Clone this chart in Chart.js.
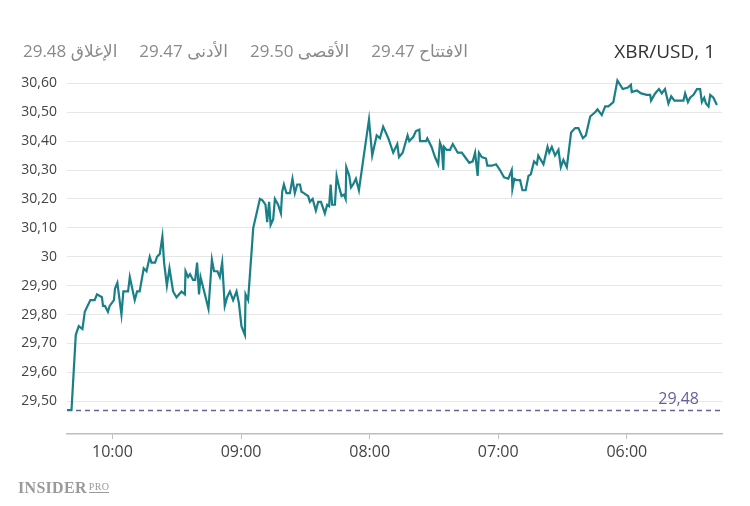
<!DOCTYPE html>
<html>
<head>
<meta charset="utf-8">
<script src="https://cdn.jsdelivr.net/npm/chart.js@4/dist/chart.umd.min.js"></script>
<style>
  html, body { margin:0; padding:0; background:#fff; }
  #wrap { position:relative; width:750px; height:506px; overflow:hidden; font-family:"Open Sans","DejaVu Sans",sans-serif; }
  #c { position:absolute; left:0; top:0; }
  #sym { position:absolute; right:35px; top:38px; font-size:19px; color:#333; line-height:26px; }
  #ohlc { position:absolute; right:282px; top:38px; font-size:17px; color:#8a8a8a; direction:rtl; white-space:nowrap; line-height:26px; }
  #ohlc span { margin-left:22px; }
  #ohlc span:last-child { margin-left:0; }
  #logo { position:absolute; left:18px; top:479px; color:#9a9a9a; font-family:"Liberation Serif","DejaVu Serif",serif; font-weight:bold; font-size:16px; letter-spacing:0.3px; }
  #logo small { font-size:10px; font-weight:normal; border-bottom:1px solid #9a9a9a; margin-left:2px; vertical-align:3px; }
</style>
</head>
<body>
<div id="wrap">
  <canvas id="c" width="750" height="506"></canvas>
  <div id="sym">XBR/USD, 1</div>
  <div id="ohlc"><span>الافتتاح 29.47</span><span>الأقصى 29.50</span><span>الأدنى 29.47</span><span>الإغلاق 29.48</span></div>
  <div id="logo">INSIDER<small>PRO</small></div>
</div>
<script>
// x position in minutes counted from the 10:00 tick towards the right of the chart
const minutes = [-21.2,-19.1,-17.1,-15.7,-14.0,-12.9,-10.3,-8.3,-7.2,-4.9,-4.4,-3.5,-2.1,-1.3,0.7,1.2,2.3,4.2,5.1,7.3,8.1,10.4,11.5,12.7,14.6,15.9,17.4,18.2,19.9,20.8,22.1,23.3,24.1,25.4,26.6,28.3,29.9,32.2,33.8,34.1,35.3,36.2,37.6,38.6,39.5,40.4,41.1,42.8,44.8,46.4,47.4,49.0,50.1,51.2,52.4,53.5,54.8,56.3,57.9,59.0,60.2,61.8,62.1,63.3,65.7,68.8,70.0,71.4,72.2,73.1,73.8,75.0,75.8,77.3,78.6,79.2,80.0,81.2,82.8,84.0,85.1,86.2,87.5,88.2,89.3,90.3,91.3,92.1,93.4,94.9,96.0,97.3,99.1,100.2,101.1,101.8,102.5,103.8,104.6,105.8,106.9,108.0,108.8,109.1,110.5,111.3,112.3,113.6,115.0,117.0,119.7,121.2,123.3,124.8,126.3,128.7,131.0,132.9,133.7,135.4,137.7,138.5,140.4,141.6,143.2,143.5,146.3,146.9,148.9,150.5,152.0,152.8,153.6,154.4,154.7,155.9,157.5,158.8,161.1,163.0,164.5,166.5,168.1,169.2,170.4,171.0,172.3,174.3,174.9,177.0,179.0,180.8,182.7,184.7,186.3,186.6,187.5,188.6,190.2,191.3,192.8,194.1,195.2,196.7,198.0,198.7,201.1,203.0,203.8,205.0,206.5,208.1,209.2,210.4,212.0,214.0,215.9,217.4,219.5,220.9,222.9,225.2,226.3,228.3,229.9,231.4,233.7,235.6,238.1,240.5,241.9,242.3,244.7,246.7,249.3,250.9,251.3,253.2,255.0,256.3,257.8,259.4,260.7,262.2,264.9,266.4,267.2,268.5,269.5,271.1,272.7,274.2,275.0,276.1,276.9,278.1,278.9,280.4,282.0];
const prices = [29.47,29.47,29.73,29.76,29.75,29.81,29.85,29.85,29.87,29.86,29.83,29.83,29.81,29.83,29.85,29.89,29.91,29.80,29.88,29.88,29.93,29.85,29.88,29.88,29.96,29.95,30.00,29.98,29.98,30.00,30.01,30.07,29.98,29.90,29.96,29.88,29.86,29.88,29.87,29.95,29.93,29.94,29.92,29.92,29.98,29.87,29.93,29.88,29.82,29.99,29.95,29.95,29.93,29.98,29.83,29.86,29.88,29.85,29.88,29.84,29.76,29.73,29.87,29.85,30.10,30.20,30.195,30.18,30.12,30.19,30.11,30.13,30.20,30.18,30.15,30.225,30.25,30.22,30.22,30.27,30.22,30.25,30.25,30.225,30.22,30.215,30.21,30.19,30.20,30.16,30.19,30.19,30.15,30.18,30.175,30.25,30.18,30.18,30.28,30.24,30.21,30.215,30.20,30.31,30.28,30.24,30.25,30.27,30.23,30.335,30.475,30.35,30.42,30.41,30.45,30.41,30.36,30.39,30.345,30.36,30.42,30.40,30.415,30.435,30.44,30.40,30.40,30.41,30.38,30.345,30.32,30.395,30.38,30.30,30.38,30.37,30.37,30.39,30.36,30.36,30.345,30.325,30.33,30.36,30.28,30.36,30.345,30.34,30.315,30.315,30.32,30.30,30.275,30.27,30.30,30.235,30.27,30.265,30.265,30.23,30.23,30.28,30.285,30.33,30.32,30.35,30.32,30.38,30.36,30.38,30.35,30.37,30.31,30.335,30.31,30.43,30.445,30.445,30.41,30.42,30.485,30.50,30.51,30.49,30.52,30.52,30.535,30.61,30.58,30.585,30.595,30.57,30.575,30.565,30.56,30.56,30.54,30.565,30.58,30.565,30.58,30.53,30.555,30.54,30.54,30.54,30.565,30.535,30.55,30.56,30.58,30.58,30.535,30.55,30.53,30.52,30.56,30.55,30.525];
const xTickValues = [0, 60, 120, 180, 240];
const xTickLabels = ['10:00', '09:00', '08:00', '07:00', '06:00'];
const yTickValues = [29.5, 29.6, 29.7, 29.8, 29.9, 30.0, 30.1, 30.2, 30.3, 30.4, 30.5, 30.6];
const yTickLabels = ['29,50', '29,60', '29,70', '29,80', '29,90', '30', '30,10', '30,20', '30,30', '30,40', '30,50', '30,60'];
const closeLevel = 29.468;
const closeLabel = '29,48';
const xRange = [-21.2, 284.4];
const yRange = [29.387, 30.646];

const lineData = minutes.map((m, i) => ({ x: m, y: prices[i] }));
const refData = [{ x: xRange[0], y: closeLevel }, { x: xRange[1], y: closeLevel }];

const closeLabelPlugin = {
  id: 'closeLabel',
  afterDatasetsDraw(chart) {
    const ctx = chart.ctx;
    const y = chart.scales.y.getPixelForValue(closeLevel);
    ctx.save();
    ctx.font = '16px "Open Sans", sans-serif';
    ctx.fillStyle = '#6b5e9c';
    ctx.textAlign = 'right';
    ctx.textBaseline = 'alphabetic';
    ctx.fillText(closeLabel, chart.chartArea.right - 23, y - 7);
    ctx.restore();
  }
};

new Chart(document.getElementById('c'), {
  type: 'line',
  data: {
    datasets: [
      { data: lineData, borderColor: '#1a7f87', borderWidth: 2.2, pointRadius: 0, tension: 0, fill: false },
      { data: refData, borderColor: '#6b5e9c', borderWidth: 1.5, borderDash: [5, 4], pointRadius: 0, fill: false }
    ]
  },
  options: {
    responsive: false,
    animation: false,
    layout: { padding: { left: 0, right: 28, top: 70, bottom: 0 } },
    plugins: { legend: { display: false }, tooltip: { enabled: false } },
    scales: {
      x: {
        type: 'linear',
        min: xRange[0], max: xRange[1],
        afterBuildTicks: (s) => { s.ticks = xTickValues.map(v => ({ value: v })); },
        afterFit: (s) => { s.height = 72; },
        grid: { drawOnChartArea: false, drawTicks: true, tickLength: 5, color: '#bdbdbd' },
        border: { display: true, color: '#bdbdbd', width: 1.5 },
        ticks: {
          padding: 4, color: '#444', font: { family: '"Open Sans", sans-serif', size: 16 },
          maxRotation: 0, autoSkip: false,
          callback: (v) => { const i = xTickValues.indexOf(v); return i >= 0 ? xTickLabels[i] : ''; }
        }
      },
      y: {
        min: yRange[0], max: yRange[1],
        afterBuildTicks: (s) => { s.ticks = yTickValues.map(v => ({ value: v })); },
        afterFit: (s) => { s.width = 67; },
        grid: { drawTicks: false, color: '#e6e6e6', lineWidth: 1 },
        border: { display: false },
        ticks: {
          padding: 10, color: '#444', font: { family: '"Open Sans", sans-serif', size: 14 },
          callback: (v) => { const i = yTickValues.findIndex(t => Math.abs(t - v) < 1e-6); return i >= 0 ? yTickLabels[i] : ''; }
        }
      }
    }
  },
  plugins: [closeLabelPlugin]
});
</script>
</body>
</html>
